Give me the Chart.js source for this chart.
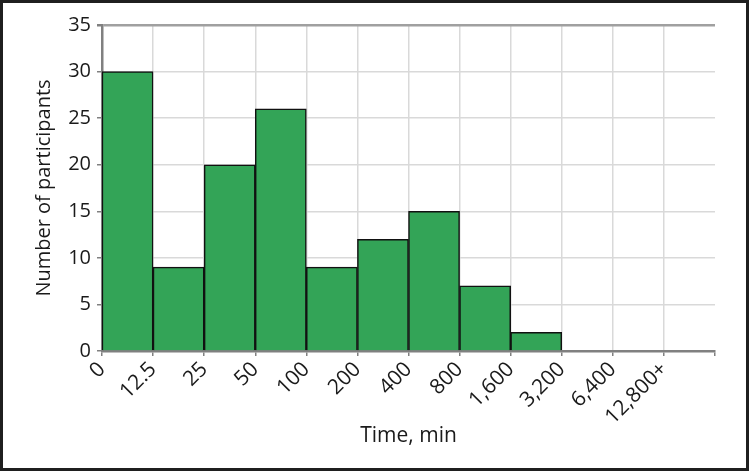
<!DOCTYPE html>
<html>
<head>
<meta charset="utf-8">
<script src="https://cdn.jsdelivr.net/npm/chart.js@4.4.0/dist/chart.umd.min.js"></script>
<style>
  html, body { margin: 0; padding: 0; background: #fff; }
  #wrap { width: 749px; height: 471px; position: relative; }
</style>
</head>
<body>
<div id="wrap"><canvas id="grafico" width="749" height="471"></canvas></div>
<script>
// Datos del histograma (bordes de los intervalos y participantes por intervalo)
const etiquetasTiempo = ['0', '12.5', '25', '50', '100', '200', '400', '800', '1,600', '3,200', '6,400', '12,800+'];
const participantes = [30, 9, 20, 26, 9, 12, 15, 7, 2, 0, 0, 0];
const ticksY = [0, 5, 10, 15, 20, 25, 30, 35];

const verde = '#33a457';
const fuente = "'Open Sans', 'DejaVu Sans', sans-serif";

// Marco exterior oscuro
const marco = {
    id: 'marco',
    afterDraw(chart) {
        const ctx = chart.ctx;
        ctx.save();
        ctx.strokeStyle = '#1f1f1f';
        ctx.lineWidth = 3;
        ctx.strokeRect(1.5, 1.5, chart.width - 3, chart.height - 3);
        ctx.restore();
    }
};

const ctx = document.getElementById('grafico').getContext('2d');
new Chart(ctx, {
    type: 'bar',
    data: {
        datasets: [{
            data: participantes.map((v, i) => ({ x: i + 0.5, y: v })),
            backgroundColor: function(c) { return c.raw && c.raw.y > 0 ? verde : 'rgba(0,0,0,0)'; },
            borderColor: '#111',
            borderWidth: function(c) { return c.raw && c.raw.y > 0 ? 1.5 : 0; },
            borderSkipped: 'bottom',
            barPercentage: 1,
            categoryPercentage: 1
        }]
    },
    options: {
        responsive: false,
        animation: false,
        layout: { padding: { top: 25, right: 34, bottom: 22, left: 32 } },
        plugins: {
            legend: { display: false },
            tooltip: { enabled: false }
        },
        scales: {
            x: {
                type: 'linear',
                min: 0,
                max: etiquetasTiempo.length,
                offset: false,
                afterBuildTicks: function(scale) {
                    scale.ticks = [];
                    for (let i = 0; i <= etiquetasTiempo.length; i++) scale.ticks.push({ value: i });
                },
                afterFit: function(scale) { scale.height = 98; },
                ticks: {
                    autoSkip: false,
                    minRotation: 45,
                    maxRotation: 45,
                    color: '#1a1a1a',
                    font: { family: fuente, size: 21 },
                    padding: 1,
                    callback: function(value) {
                        return etiquetasTiempo[value] !== undefined ? etiquetasTiempo[value] : '';
                    }
                },
                grid: {
                    offset: false,
                    color: function(c) { return c.index === etiquetasTiempo.length ? 'rgba(0,0,0,0)' : '#d9d9d9'; },
                    lineWidth: 1.5,
                    tickColor: '#808080',
                    tickLength: 5
                },
                border: { color: '#808080', width: 2.5 },
                title: {
                    display: true,
                    text: 'Time, min',
                    color: '#1a1a1a',
                    font: { family: fuente, size: 21 },
                    padding: { top: 0, bottom: 0 }
                }
            },
            y: {
                min: 0,
                max: 35,
                afterBuildTicks: function(scale) {
                    scale.ticks = ticksY.map(v => ({ value: v }));
                },
                afterFit: function(scale) { scale.width = 70; },
                ticks: {
                    color: '#1a1a1a',
                    font: { family: fuente, size: 20 },
                    padding: 6
                },
                grid: {
                    color: function(c) { return c.tick && c.tick.value === 35 ? '#a0a0a0' : '#d9d9d9'; },
                    lineWidth: function(c) { return c.tick && c.tick.value === 35 ? 2.5 : 1.5; },
                    tickColor: '#808080',
                    tickLength: 5
                },
                border: { color: '#808080', width: 2.5 },
                title: {
                    display: true,
                    text: 'Number of participants',
                    color: '#1a1a1a',
                    font: { family: fuente, size: 20 },
                    padding: { top: 0, bottom: 4 }
                }
            }
        }
    },
    plugins: [marco]
});
</script>
</body>
</html>
